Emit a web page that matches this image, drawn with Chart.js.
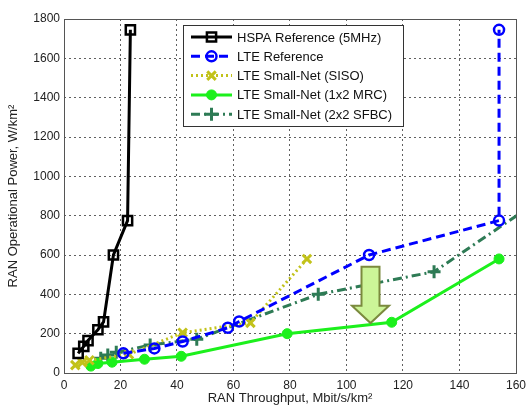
<!DOCTYPE html>
<html>
<head>
<meta charset="utf-8">
<script src="https://cdn.jsdelivr.net/npm/chart.js@4.4.1/dist/chart.umd.min.js"></script>
<style>
  html, body { margin: 0; padding: 0; background: #fff; }
</style>
</head>
<body>
<canvas id="chart" width="531" height="412"></canvas>
<script>
// values
var hspaX  = [5, 7, 8.5, 12, 14, 17.5, 22.5, 23.5];
var hspaY  = [100, 135, 165, 220, 260, 600, 775, 1745];
var lteX   = [21, 32, 42, 58, 62, 108, 154, 154];
var lteY   = [100, 125, 160, 230, 262, 600, 775, 1745];
var sisoX  = [4, 6.5, 9, 23, 42, 66, 86];
var sisoY  = [40, 54, 65, 95, 205, 255, 580];
var mrcX   = [9.5, 12, 17, 28.5, 41.5, 79, 116, 154];
var mrcY   = [35, 48, 55, 70, 85, 200, 258, 580];
var sfbcX  = [13, 15.5, 18.5, 30.5, 47, 90, 131, 172];
var sfbcY  = [75, 92, 105, 142, 172, 400, 515, 915];

var seriesNames = [
  'HSPA Reference (5MHz)',
  'LTE Reference',
  'LTE Small-Net (SISO)',
  'LTE Small-Net (1x2 MRC)',
  'LTE Small-Net (2x2 SFBC)'
];
var xTicks = [0, 20, 40, 60, 80, 100, 120, 140, 160];
var yTicks = [0, 200, 400, 600, 800, 1000, 1200, 1400, 1600, 1800];

var pts = function(xs, ys) {
  return xs.map(function(x, i) { return {x: x, y: ys[i]}; });
};

var FONT = '"Liberation Sans", Arial, sans-serif';

// draw one marker the same way in legend
var drawMarker = function(ctx, style, x, y, r, stroke, fill, lw) {
  ctx.save();
  ctx.strokeStyle = stroke;
  ctx.fillStyle = fill;
  ctx.lineWidth = lw;
  ctx.setLineDash([]);
  ctx.beginPath();
  if (style === 'rect') {
    var s = r * Math.SQRT1_2;
    ctx.rect(x - s, y - s, 2 * s, 2 * s);
    ctx.stroke();
  } else if (style === 'circle') {
    ctx.arc(x, y, r, 0, Math.PI * 2);
    if (fill !== 'transparent') ctx.fill();
    ctx.stroke();
  } else if (style === 'crossRot') {
    var d = r * Math.SQRT1_2;
    ctx.moveTo(x - d, y - d); ctx.lineTo(x + d, y + d);
    ctx.moveTo(x - d, y + d); ctx.lineTo(x + d, y - d);
    ctx.stroke();
  } else if (style === 'cross') {
    ctx.moveTo(x, y - r); ctx.lineTo(x, y + r);
    ctx.moveTo(x - r, y); ctx.lineTo(x + r, y);
    ctx.stroke();
  }
  ctx.restore();
};

var boxPlugin = {
  id: 'box',
  afterDraw: function(chart) {
    var ctx = chart.ctx, a = chart.chartArea;
    ctx.save();
    ctx.strokeStyle = '#555';
    ctx.lineWidth = 1;
    ctx.strokeRect(Math.round(a.left) + 0.5, Math.round(a.top) + 0.5,
                   Math.round(a.right - a.left), Math.round(a.bottom - a.top));
    ctx.restore();
  }
};

// light green "improvement" arrow, anchored in data units
var arrowPlugin = {
  id: 'arrow',
  afterDatasetsDraw: function(chart) {
    var xs = chart.scales.x, ys = chart.scales.y, ctx = chart.ctx;
    var cx = xs.getPixelForValue(108.5);
    var top = ys.getPixelForValue(540);
    var neck = ys.getPixelForValue(342);
    var tip = ys.getPixelForValue(254);
    var sw = 9, hw = 18.5;
    ctx.save();
    ctx.beginPath();
    ctx.moveTo(cx - sw, top);
    ctx.lineTo(cx + sw, top);
    ctx.lineTo(cx + sw, neck);
    ctx.lineTo(cx + hw, neck);
    ctx.lineTo(cx, tip);
    ctx.lineTo(cx - hw, neck);
    ctx.lineTo(cx - sw, neck);
    ctx.closePath();
    ctx.fillStyle = '#ccf598';
    ctx.fill();
    ctx.strokeStyle = '#7b8a3e';
    ctx.lineWidth = 2;
    ctx.stroke();
    ctx.restore();
  }
};

var legendPlugin = {
  id: 'matlabLegend',
  afterDraw: function(chart) {
    var ctx = chart.ctx;
    var bx = 183.5, by = 25.5, bw = 220, bh = 101;
    ctx.save();
    ctx.fillStyle = '#fff';
    ctx.fillRect(bx, by, bw, bh);
    ctx.strokeStyle = '#333';
    ctx.lineWidth = 1;
    ctx.strokeRect(bx, by, bw, bh);
    chart.data.datasets.forEach(function(ds, i) {
      var y = 37 + i * 19.3;
      ctx.save();
      ctx.strokeStyle = ds.borderColor;
      ctx.lineWidth = ds.borderWidth;
      ctx.setLineDash(ds.borderDash || []);
      ctx.beginPath();
      ctx.moveTo(191, y);
      ctx.lineTo(232, y);
      ctx.stroke();
      ctx.restore();
      drawMarker(ctx, ds.pointStyle, 211.5, y, ds.pointRadius,
                 ds.pointBorderColor, ds.pointBackgroundColor, ds.pointBorderWidth);
      ctx.fillStyle = '#111';
      ctx.font = '13px ' + FONT;
      ctx.textBaseline = 'middle';
      ctx.textAlign = 'left';
      ctx.fillText(ds.label, 237, y + 1);
    });
    ctx.restore();
  }
};

var series = function(label, xs, ys, color, dash, style, radius, fill, pbw) {
  return {
    label: label,
    data: pts(xs, ys),
    showLine: true,
    tension: 0,
    borderColor: color,
    borderWidth: 3,
    borderDash: dash,
    pointStyle: style,
    pointRadius: radius,
    pointHoverRadius: radius,
    pointBorderColor: color,
    pointBackgroundColor: fill,
    pointBorderWidth: pbw
  };
};

var edgeGrid = function(ctx) {
  var v = ctx.tick && ctx.tick.value;
  var s = ctx.scale;
  if (v === s.min || v === s.max) return 'rgba(0,0,0,0)';
  return '#606060';
};

var plainLabel = function(v) { return String(v); };

new Chart(document.getElementById('chart').getContext('2d'), {
  type: 'scatter',
  data: {
    datasets: [
      series(seriesNames[0], hspaX, hspaY, '#000000', [], 'rect', 6.5, 'rgba(0,0,0,0)', 2.5),
      series(seriesNames[1], lteX, lteY, '#0000ff', [9, 5], 'circle', 5, 'transparent', 2.5),
      series(seriesNames[2], sisoX, sisoY, '#c2c21a', [2, 3], 'crossRot', 6, 'transparent', 3),
      series(seriesNames[3], mrcX, mrcY, '#1cf01c', [], 'circle', 5, '#1cf01c', 1),
      series(seriesNames[4], sfbcX, sfbcY, '#2e7b55', [9, 4, 2, 4], 'cross', 6.5, 'transparent', 3)
    ]
  },
  options: {
    responsive: false,
    animation: false,
    layout: { padding: { top: 19, right: 14, left: 0, bottom: 0 } },
    plugins: {
      legend: { display: false },
      tooltip: { enabled: false }
    },
    scales: {
      x: {
        type: 'linear',
        min: 0, max: 160,
        afterBuildTicks: function(scale) {
          scale.ticks = xTicks.map(function(v) { return {value: v}; });
        },
        afterFit: function(scale) { scale.height = 39; },
        border: { display: false, dash: [2, 3] },
        grid: { color: edgeGrid, lineWidth: 1, drawTicks: false },
        ticks: {
          padding: 5, maxRotation: 0, autoSkip: false, callback: plainLabel,
          color: '#222', font: { family: FONT, size: 12 }
        },
        title: {
          display: true,
          text: 'RAN Throughput, Mbit/s/km²',
          color: '#222',
          font: { family: FONT, size: 13 },
          padding: { top: 0, bottom: 6 }
        }
      },
      y: {
        type: 'linear',
        min: 0, max: 1800,
        afterBuildTicks: function(scale) {
          scale.ticks = yTicks.map(function(v) { return {value: v}; });
        },
        afterFit: function(scale) { scale.width = 64; },
        border: { display: false, dash: [2, 3] },
        grid: { color: edgeGrid, lineWidth: 1, drawTicks: false },
        ticks: {
          padding: 4, autoSkip: false, callback: plainLabel,
          color: '#222', font: { family: FONT, size: 12 }
        },
        title: {
          display: true,
          text: 'RAN Operational Power, W/km²',
          color: '#222',
          font: { family: FONT, size: 13 },
          padding: { top: 6, bottom: 0 }
        }
      }
    }
  },
  plugins: [boxPlugin, arrowPlugin, legendPlugin]
});
</script>
</body>
</html>
